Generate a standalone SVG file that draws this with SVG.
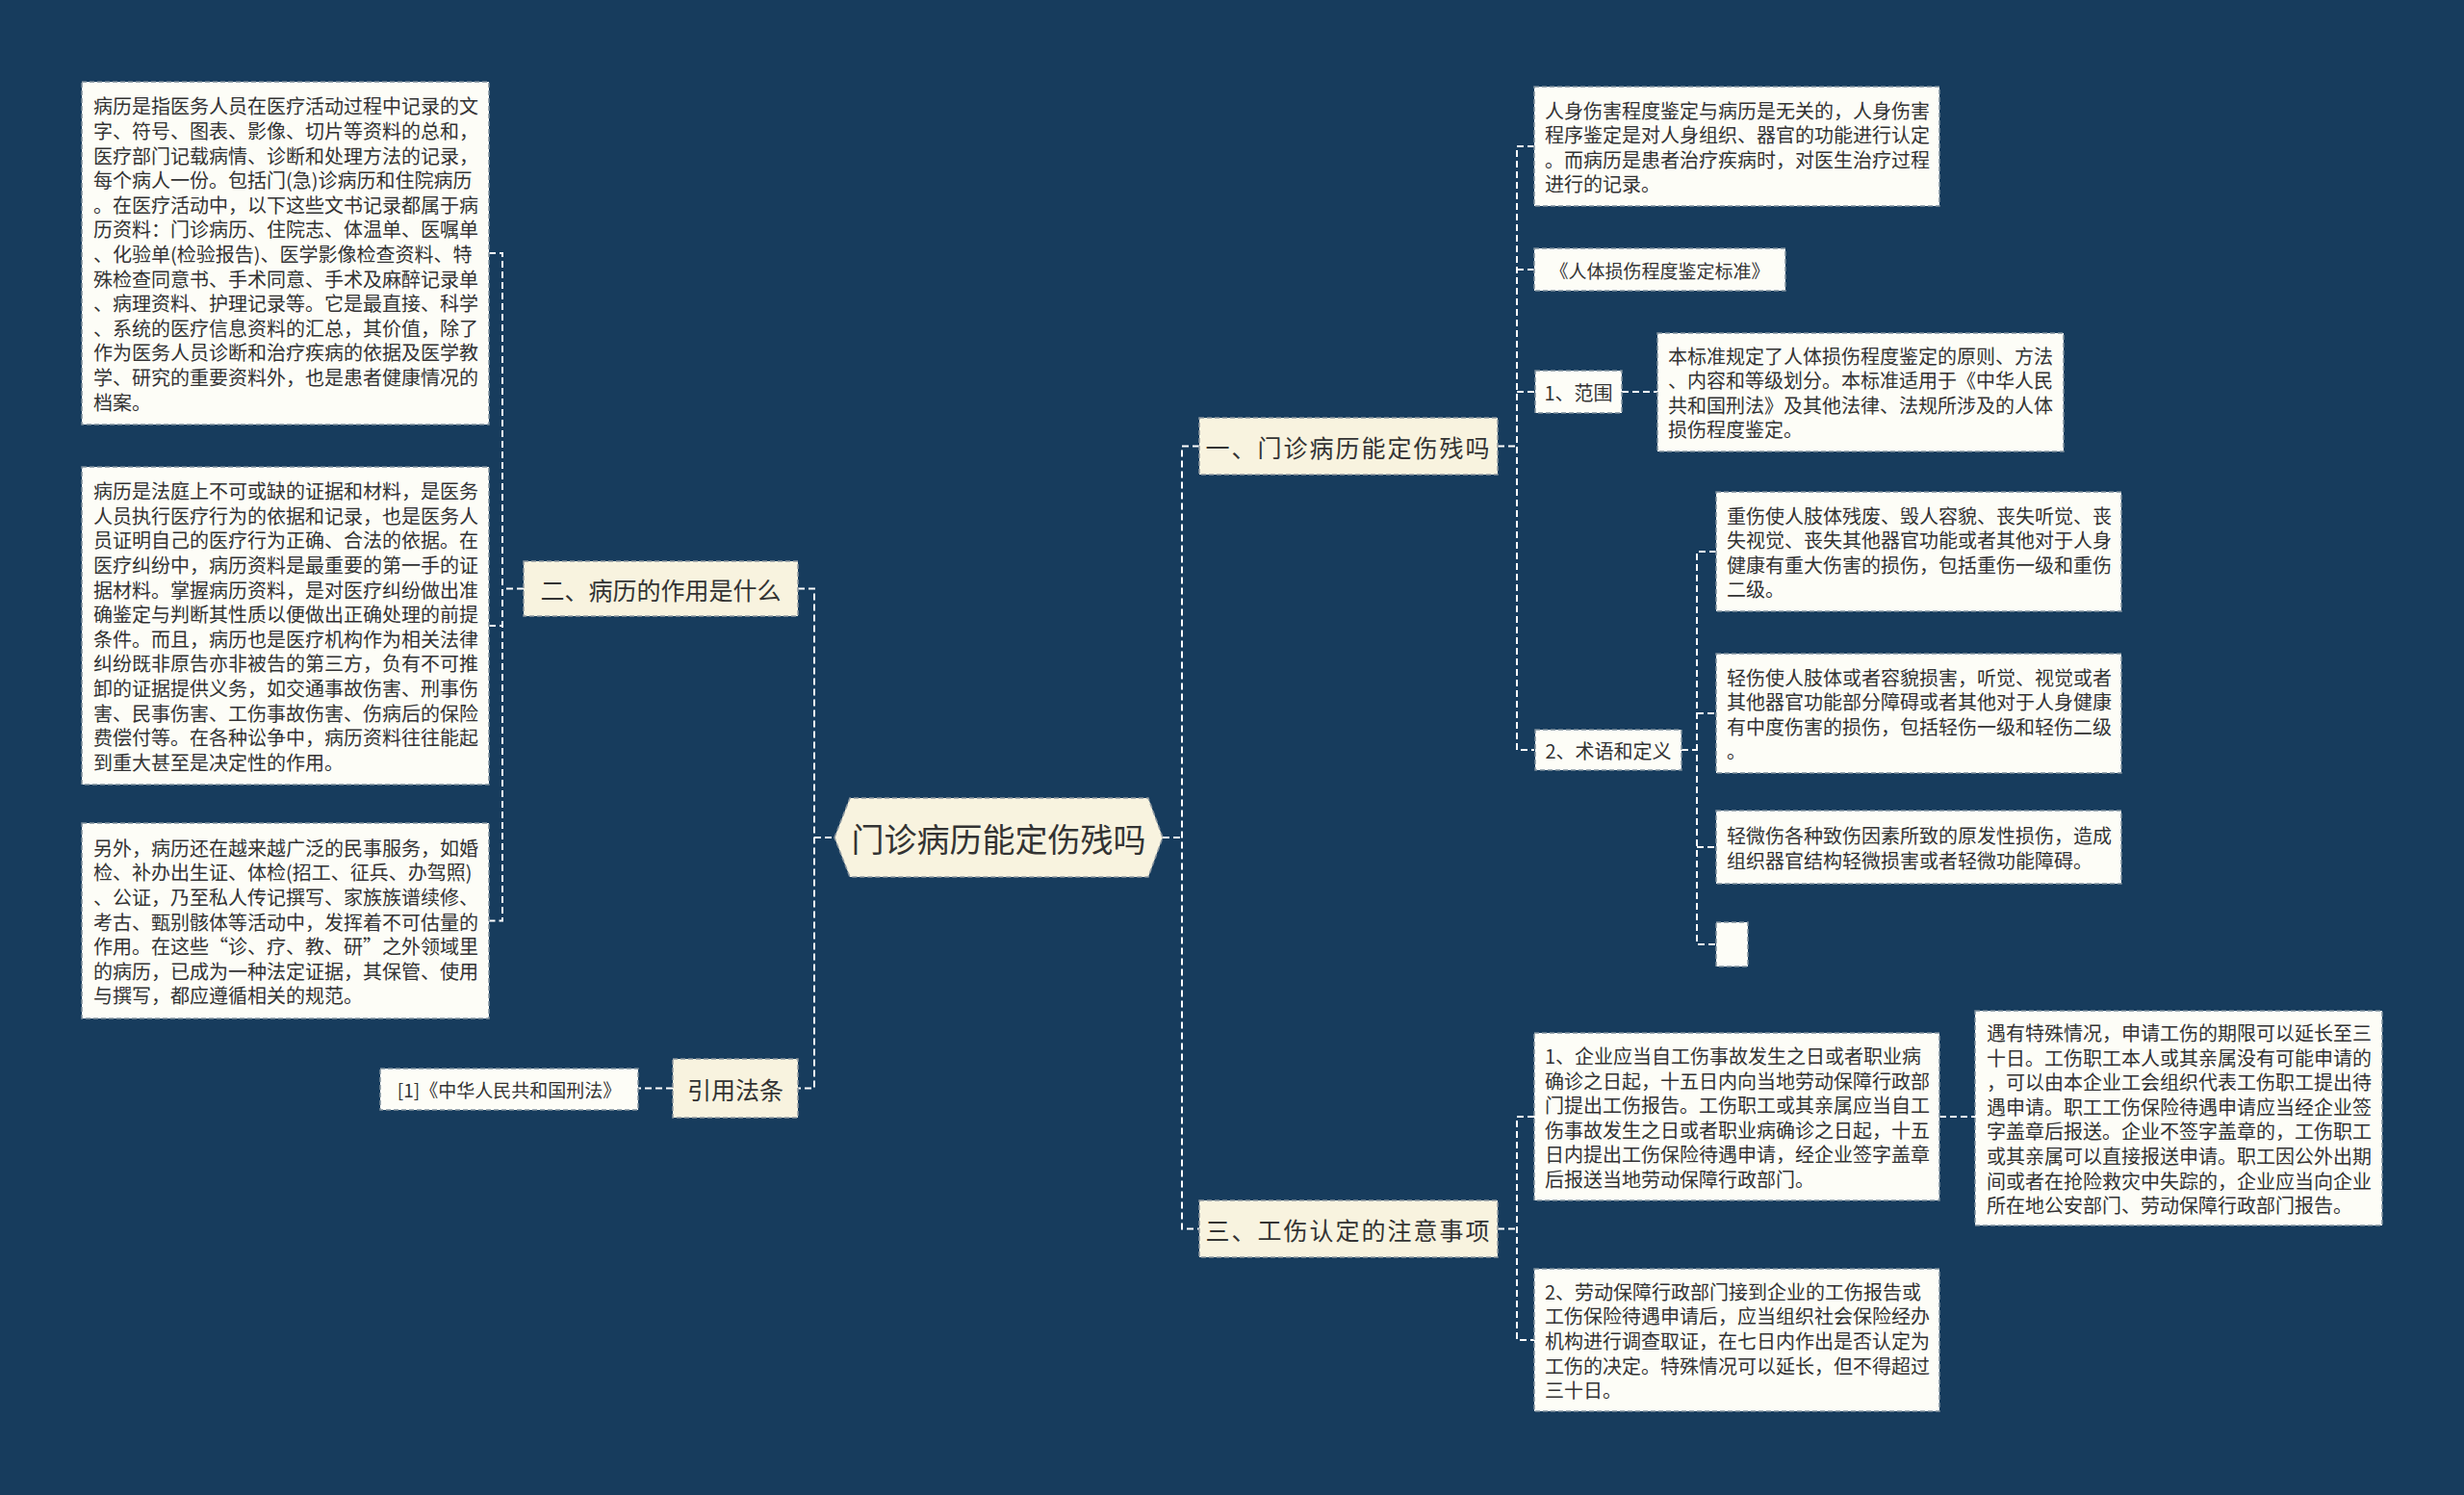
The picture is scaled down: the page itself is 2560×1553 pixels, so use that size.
<svg xmlns="http://www.w3.org/2000/svg" width="2560" height="1553" viewBox="0 0 2560 1553">
<style>
.bg{fill:#173c5d}
.conn{fill:none;stroke:#ffffff;stroke-width:2;stroke-dasharray:7 4}
.box{fill:#fdfdf7;stroke:#7e8e9c;stroke-width:1.5;stroke-dasharray:5 3}
.br{fill:#f8f3df;stroke:#8e98a0;stroke-width:1.5;stroke-dasharray:5 3}
.t{font-family:"Noto Sans CJK SC","Noto Sans",sans-serif;fill:#333333;dominant-baseline:central}
.s20{font-size:20px}
.s19{font-size:19px}
.s25{font-size:25px}
.s34{font-size:34px}
</style>
<rect class="bg" x="0" y="0" width="2560" height="1553"/>
<g id="connectors">
<path class="conn" d="M829,611.5 H846 V1130.5 H829 M846,870 H867"/>
<path class="conn" d="M544,611.5 H522 M508,263 H522 V956.5 H508 M508,650 H522"/>
<path class="conn" d="M699,1130.5 H663"/>
<path class="conn" d="M1208,870 H1228 M1246,463.5 H1228 V1276.5 H1246"/>
<path class="conn" d="M1556,463.5 H1576 M1594,152 H1576 V779 H1594 M1576,280 H1594 M1576,407 H1595"/>
<path class="conn" d="M1685,407 H1722"/>
<path class="conn" d="M1747,779 H1763 M1783,573 H1763 V981 H1783 M1763,741 H1783 M1763,880 H1783"/>
<path class="conn" d="M1556,1276.5 H1576 M1594,1160 H1576 V1392 H1594"/>
<path class="conn" d="M2015,1160 H2052"/>
</g>
<g id="center">
<polygon class="br" points="867,870 883,829 1193,829 1208,870 1193,911 883,911"/>
<text class="t s34" x="1037.5" y="870" text-anchor="middle">门诊病历能定伤残吗</text>
</g>
<g id="branch-2">
<rect class="br" x="544" y="583" width="285" height="57"/>
<text class="t s25" x="686.5" y="611.5" text-anchor="middle">二、病历的作用是什么</text>
</g>
<g id="branch-ref">
<rect class="br" x="699" y="1100" width="130" height="61"/>
<text class="t s25" x="764" y="1130.5" text-anchor="middle">引用法条</text>
</g>
<g id="ref-1">
<rect class="box" x="395" y="1110" width="268" height="43"/>
<text class="t s19" x="529" y="1131.5" text-anchor="middle">[1]《中华人民共和国刑法》</text>
</g>
<g id="left-1">
<rect class="box" x="85" y="85" width="423" height="356"/>
<text class="t s20" x="97">
<tspan x="97" y="109.4">病历是指医务人员在医疗活动过程中记录的文</tspan>
<tspan x="97" y="135">字、符号、图表、影像、切片等资料的总和，</tspan>
<tspan x="97" y="160.6">医疗部门记载病情、诊断和处理方法的记录，</tspan>
<tspan x="97" y="186.2">每个病人一份。包括门(急)诊病历和住院病历</tspan>
<tspan x="97" y="211.8">。在医疗活动中，以下这些文书记录都属于病</tspan>
<tspan x="97" y="237.4">历资料：门诊病历、住院志、体温单、医嘱单</tspan>
<tspan x="97" y="263">、化验单(检验报告)、医学影像检查资料、特</tspan>
<tspan x="97" y="288.6">殊检查同意书、手术同意、手术及麻醉记录单</tspan>
<tspan x="97" y="314.2">、病理资料、护理记录等。它是最直接、科学</tspan>
<tspan x="97" y="339.8">、系统的医疗信息资料的汇总，其价值，除了</tspan>
<tspan x="97" y="365.4">作为医务人员诊断和治疗疾病的依据及医学教</tspan>
<tspan x="97" y="391">学、研究的重要资料外，也是患者健康情况的</tspan>
<tspan x="97" y="416.6">档案。</tspan>
</text>
</g>
<g id="left-2">
<rect class="box" x="85" y="485" width="423" height="330"/>
<text class="t s20" x="97">
<tspan x="97" y="509.2">病历是法庭上不可或缺的证据和材料，是医务</tspan>
<tspan x="97" y="534.8">人员执行医疗行为的依据和记录，也是医务人</tspan>
<tspan x="97" y="560.4">员证明自己的医疗行为正确、合法的依据。在</tspan>
<tspan x="97" y="586">医疗纠纷中，病历资料是最重要的第一手的证</tspan>
<tspan x="97" y="611.6">据材料。掌握病历资料，是对医疗纠纷做出准</tspan>
<tspan x="97" y="637.2">确鉴定与判断其性质以便做出正确处理的前提</tspan>
<tspan x="97" y="662.8">条件。而且，病历也是医疗机构作为相关法律</tspan>
<tspan x="97" y="688.4">纠纷既非原告亦非被告的第三方，负有不可推</tspan>
<tspan x="97" y="714">卸的证据提供义务，如交通事故伤害、刑事伤</tspan>
<tspan x="97" y="739.6">害、民事伤害、工伤事故伤害、伤病后的保险</tspan>
<tspan x="97" y="765.2">费偿付等。在各种讼争中，病历资料往往能起</tspan>
<tspan x="97" y="790.8">到重大甚至是决定性的作用。</tspan>
</text>
</g>
<g id="left-3">
<rect class="box" x="85" y="855" width="423" height="203"/>
<text class="t s20" x="97">
<tspan x="97" y="879.7">另外，病历还在越来越广泛的民事服务，如婚</tspan>
<tspan x="97" y="905.3">检、补办出生证、体检(招工、征兵、办驾照)</tspan>
<tspan x="97" y="930.9">、公证，乃至私人传记撰写、家族族谱续修、</tspan>
<tspan x="97" y="956.5">考古、甄别骸体等活动中，发挥着不可估量的</tspan>
<tspan x="97" y="982.1">作用。在这些“诊、疗、教、研”之外领域里</tspan>
<tspan x="97" y="1007.7">的病历，已成为一种法定证据，其保管、使用</tspan>
<tspan x="97" y="1033.3">与撰写，都应遵循相关的规范。</tspan>
</text>
</g>
<g id="branch-1">
<rect class="br" x="1246" y="434" width="310" height="59"/>
<text class="t s25" x="1401" y="463.5" text-anchor="middle" letter-spacing="2">一、门诊病历能定伤残吗</text>
</g>
<g id="branch-3">
<rect class="br" x="1246" y="1247" width="310" height="59"/>
<text class="t s25" x="1401" y="1276.5" text-anchor="middle" letter-spacing="2">三、工伤认定的注意事项</text>
</g>
<g id="right-1">
<rect class="box" x="1594" y="90" width="421" height="124"/>
<text class="t s20">
<tspan x="1605" y="113.6">人身伤害程度鉴定与病历是无关的，人身伤害</tspan>
<tspan x="1605" y="139.2">程序鉴定是对人身组织、器官的功能进行认定</tspan>
<tspan x="1605" y="164.8">。而病历是患者治疗疾病时，对医生治疗过程</tspan>
<tspan x="1605" y="190.4">进行的记录。</tspan>
</text>
</g>
<g id="right-2">
<rect class="box" x="1594" y="258" width="261" height="44"/>
<text class="t s19" x="1724.5" y="280" text-anchor="middle">《人体损伤程度鉴定标准》</text>
</g>
<g id="right-3">
<rect class="box" x="1595" y="385" width="90" height="44"/>
<text class="t s20" x="1640" y="407" text-anchor="middle">1、范围</text>
</g>
<g id="right-4">
<rect class="box" x="1722" y="346" width="422" height="123"/>
<text class="t s20">
<tspan x="1733" y="368.6">本标准规定了人体损伤程度鉴定的原则、方法</tspan>
<tspan x="1733" y="394.2">、内容和等级划分。本标准适用于《中华人民</tspan>
<tspan x="1733" y="419.8">共和国刑法》及其他法律、法规所涉及的人体</tspan>
<tspan x="1733" y="445.4">损伤程度鉴定。</tspan>
</text>
</g>
<g id="right-5">
<rect class="box" x="1595" y="758" width="152" height="42"/>
<text class="t s20" x="1671" y="779" text-anchor="middle">2、术语和定义</text>
</g>
<g id="right-6">
<rect class="box" x="1783" y="511" width="421" height="124"/>
<text class="t s20">
<tspan x="1794" y="534.6">重伤使人肢体残废、毁人容貌、丧失听觉、丧</tspan>
<tspan x="1794" y="560.2">失视觉、丧失其他器官功能或者其他对于人身</tspan>
<tspan x="1794" y="585.8">健康有重大伤害的损伤，包括重伤一级和重伤</tspan>
<tspan x="1794" y="611.4">二级。</tspan>
</text>
</g>
<g id="right-7">
<rect class="box" x="1783" y="679" width="421" height="124"/>
<text class="t s20">
<tspan x="1794" y="702.6">轻伤使人肢体或者容貌损害，听觉、视觉或者</tspan>
<tspan x="1794" y="728.2">其他器官功能部分障碍或者其他对于人身健康</tspan>
<tspan x="1794" y="753.8">有中度伤害的损伤，包括轻伤一级和轻伤二级</tspan>
<tspan x="1794" y="779.4">。</tspan>
</text>
</g>
<g id="right-8">
<rect class="box" x="1783" y="842" width="421" height="76"/>
<text class="t s20">
<tspan x="1794" y="867.2">轻微伤各种致伤因素所致的原发性损伤，造成</tspan>
<tspan x="1794" y="892.8">组织器官结构轻微损害或者轻微功能障碍。</tspan>
</text>
</g>
<g id="right-9">
<rect class="box" x="1783" y="958" width="33" height="46"/>
</g>
<g id="right-10">
<rect class="box" x="1594" y="1073" width="421" height="174"/>
<text class="t s20">
<tspan x="1605" y="1096">1、企业应当自工伤事故发生之日或者职业病</tspan>
<tspan x="1605" y="1121.6">确诊之日起，十五日内向当地劳动保障行政部</tspan>
<tspan x="1605" y="1147.2">门提出工伤报告。工伤职工或其亲属应当自工</tspan>
<tspan x="1605" y="1172.8">伤事故发生之日或者职业病确诊之日起，十五</tspan>
<tspan x="1605" y="1198.4">日内提出工伤保险待遇申请，经企业签字盖章</tspan>
<tspan x="1605" y="1224">后报送当地劳动保障行政部门。</tspan>
</text>
</g>
<g id="right-11">
<rect class="box" x="2052" y="1050" width="423" height="223"/>
<text class="t s20">
<tspan x="2064" y="1071.9">遇有特殊情况，申请工伤的期限可以延长至三</tspan>
<tspan x="2064" y="1097.5">十日。工伤职工本人或其亲属没有可能申请的</tspan>
<tspan x="2064" y="1123.1">，可以由本企业工会组织代表工伤职工提出待</tspan>
<tspan x="2064" y="1148.7">遇申请。职工工伤保险待遇申请应当经企业签</tspan>
<tspan x="2064" y="1174.3">字盖章后报送。企业不签字盖章的，工伤职工</tspan>
<tspan x="2064" y="1199.9">或其亲属可以直接报送申请。职工因公外出期</tspan>
<tspan x="2064" y="1225.5">间或者在抢险救灾中失踪的，企业应当向企业</tspan>
<tspan x="2064" y="1251.1">所在地公安部门、劳动保障行政部门报告。</tspan>
</text>
</g>
<g id="right-12">
<rect class="box" x="1594" y="1318" width="421" height="148"/>
<text class="t s20">
<tspan x="1605" y="1340.8">2、劳动保障行政部门接到企业的工伤报告或</tspan>
<tspan x="1605" y="1366.4">工伤保险待遇申请后，应当组织社会保险经办</tspan>
<tspan x="1605" y="1392">机构进行调查取证，在七日内作出是否认定为</tspan>
<tspan x="1605" y="1417.6">工伤的决定。特殊情况可以延长，但不得超过</tspan>
<tspan x="1605" y="1443.2">三十日。</tspan>
</text>
</g>
</svg>
